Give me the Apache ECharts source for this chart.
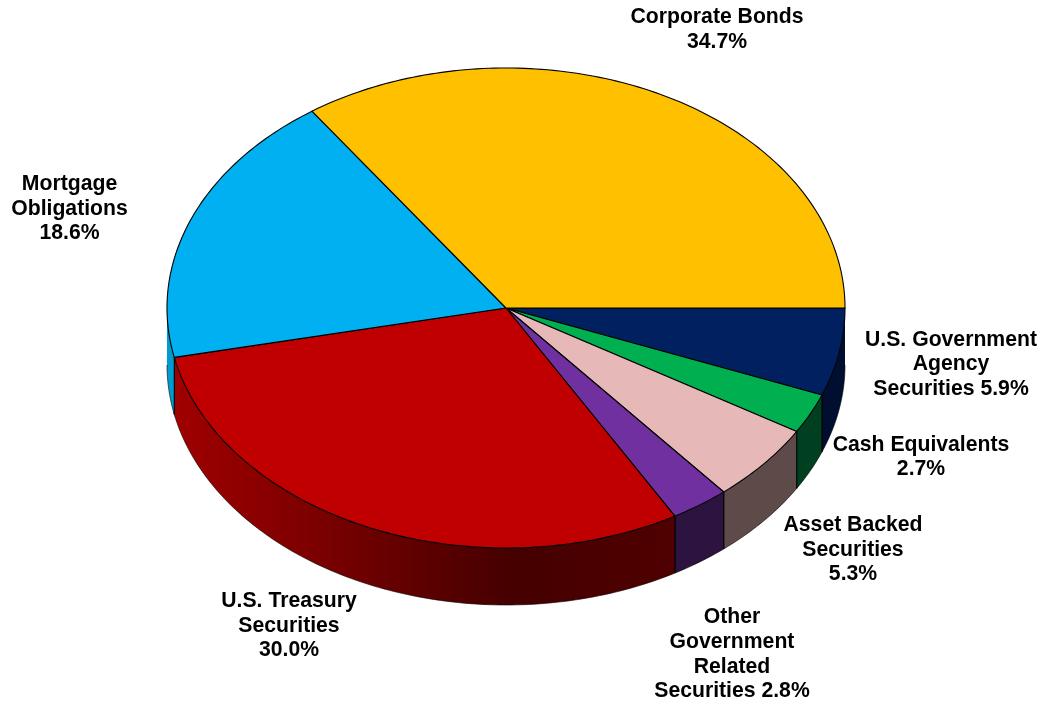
<!DOCTYPE html>
<html><head><meta charset="utf-8">
<style>html,body{margin:0;padding:0;background:#fff}#c{width:1045px;height:704px}</style>
<script src="https://cdn.jsdelivr.net/npm/echarts@6/dist/echarts.min.js"></script>
</head><body><div id="c"></div>
<script>
// Clockwise from 3 o'clock
const categories = ['U.S. Government\nAgency\nSecurities', 'Cash Equivalents', 'Asset Backed\nSecurities', 'Other\nGovernment\nRelated\nSecurities', 'U.S. Treasury\nSecurities', 'Mortgage\nObligations', 'Corporate Bonds'];
const values = [5.9, 2.7, 5.3, 2.8, 30.0, 18.6, 34.7];
const labelTexts = ['U.S. Government\nAgency\nSecurities 5.9%', 'Cash Equivalents\n2.7%', 'Asset Backed\nSecurities\n5.3%', 'Other\nGovernment\nRelated\nSecurities 2.8%', 'U.S. Treasury\nSecurities\n30.0%', 'Mortgage\nObligations\n18.6%', 'Corporate Bonds\n34.7%'];
const topColors = ['#002060', '#00B050', '#E6B9B8', '#7030A0', '#C00000', '#00B0F0', '#FFC000'];
const sideColors = ['#000F30', '#004020', '#5D4A49', '#2C1340', null, '#009CD0', '#806000'];

// Layout (not data)
const CX = 506, CY = 308, RX = 339, RY = 240, DEPTH = 57;
const labelPos = [[951, 364.5], [921, 457], [853, 550], [732, 654.5], [289, 626], [69.5, 209], [717, 29.5]];
const treasurySide = {
  type: 'linear', global: true, x: 174, y: 0, x2: 676, y2: 0,
  colorStops: [
    {offset: 0, color: '#A00000'}, {offset: 0.25, color: '#800000'},
    {offset: 0.5, color: '#5C0000'}, {offset: 0.68, color: '#450000'}, {offset: 1, color: '#500000'}
  ]
};

const total = values.reduce((a, b) => a + b, 0);
const DEG = Math.PI / 180;
function pt(t, dy) { return [CX + RX * Math.cos(t), CY + RY * Math.sin(t) + (dy || 0)]; }
function arc(t1, t2, dy) {
  const n = Math.max(2, Math.ceil(Math.abs(t2 - t1) / DEG));
  const out = [];
  for (let i = 0; i <= n; i++) out.push(pt(t1 + (t2 - t1) * i / n, dy));
  return out;
}
function renderItem(params, api) {
  const i = params.dataIndex;
  let before = 0;
  for (let k = 0; k < i; k++) before += values[k];
  const t1 = before / total * 2 * Math.PI;
  const t2 = (before + api.value(0)) / total * 2 * Math.PI;
  const children = [];
  // Side wall: the rim is only visible on the screen-lower half (t in 0..PI)
  const s2 = Math.min(t2, Math.PI);
  if (s2 > t1) {
    const fill = sideColors[i] || treasurySide;
    children.push({
      type: 'polygon', z2: 1, shape: {points: arc(t1, s2, 0).concat(arc(s2, t1, DEPTH))},
      style: {fill: fill, stroke: null}
    });
    children.push({
      type: 'polyline', z2: 1, shape: {points: arc(t1, s2, DEPTH)},
      style: {fill: null, stroke: '#000', lineWidth: 0.6}
    });
    [t1, s2].forEach(t => {
      if (t > 0.001 && t < Math.PI - 0.001) {
        children.push({
          type: 'polyline', z2: 1, shape: {points: [pt(t, 0), pt(t, DEPTH)]},
          style: {fill: null, stroke: '#000', lineWidth: 1}
        });
      }
    });
  }
  const top = [[CX, CY]].concat(arc(t1, t2, 0));
  children.push({
    type: 'polygon', z2: 2, shape: {points: top},
    style: {fill: topColors[i], stroke: '#000', lineWidth: 1.1, lineJoin: 'round'}
  });
  children.push({
    type: 'text', z2: 3, x: labelPos[i][0], y: labelPos[i][1],
    style: {text: labelTexts[i], fill: '#000', align: 'center', verticalAlign: 'middle',
      font: 'bold 21.2px "Liberation Sans", Arial, sans-serif', lineHeight: 24.6}
  });
  return {type: 'group', children};
}
const chart = echarts.init(document.getElementById('c'), null, {renderer: 'canvas'});
chart.setOption({
  animation: false,
  backgroundColor: '#fff',
  series: [{
    type: 'custom', coordinateSystem: 'none', renderItem,
    data: values.map((v, i) => ({name: categories[i], value: [v]}))
  }]
});
</script></body></html>
